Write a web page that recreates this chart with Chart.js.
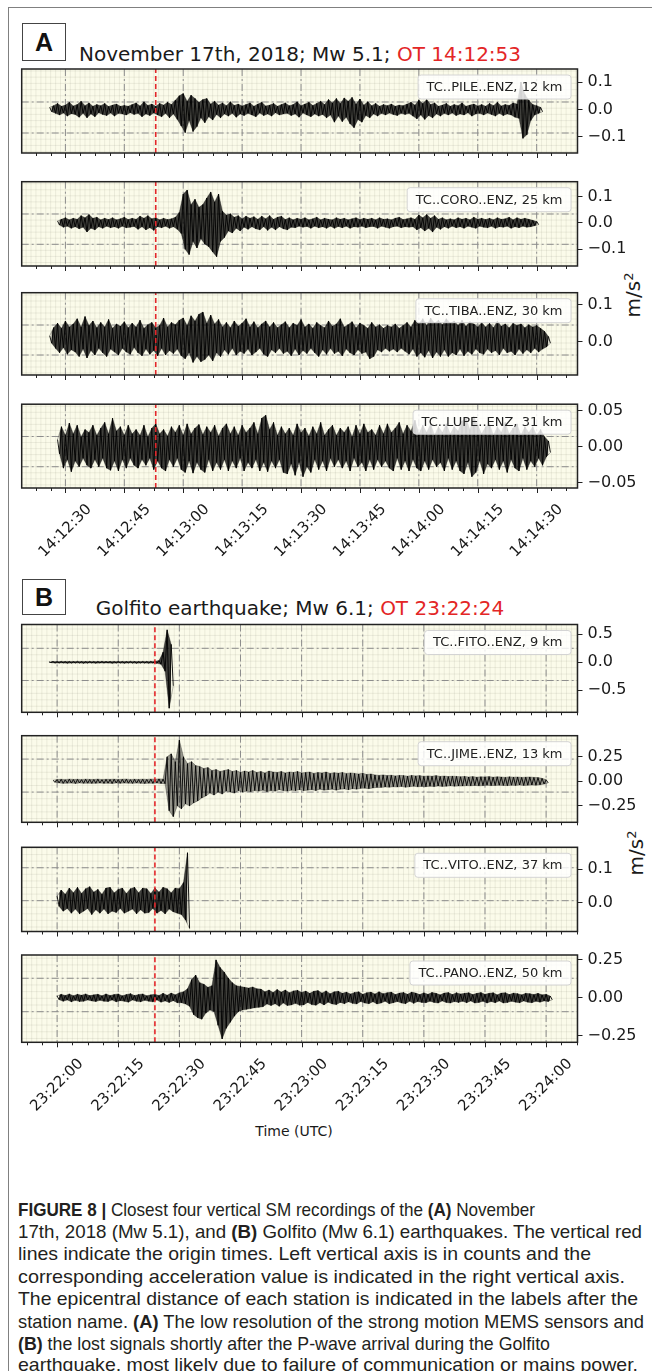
<!DOCTYPE html>
<html><head><meta charset="utf-8">
<script src="https://cdn.jsdelivr.net/npm/chart.js@4.4.0/dist/chart.umd.min.js"></script>
<style>
html,body{margin:0;padding:0;background:#fff;}
body{width:652px;height:1371px;position:relative;overflow:hidden;font-family:"DejaVu Sans",sans-serif;color:#1a1a1a;}
.frame{position:absolute;left:8px;top:7px;width:700px;height:1400px;border-left:1px solid #808080;border-top:1px solid #808080;}
.pbox{position:absolute;left:22px;width:44px;border:1px solid #444;font-family:"Liberation Sans",Arial,sans-serif;font-weight:bold;font-size:25px;text-align:center;box-sizing:border-box;color:#111;}
.title{position:absolute;left:22px;width:556px;text-align:center;font-size:20px;white-space:nowrap;line-height:24px;color:#1a1a1a;}
.red{color:#e32626;}
canvas{position:absolute;left:0;}
.unit{position:absolute;font-size:20px;transform:translate(-50%,-50%) rotate(-90deg);white-space:nowrap;line-height:24px;color:#1a1a1a;}
.unit sup{font-size:13px;vertical-align:top;position:relative;top:-4px;}
.xlabel{position:absolute;font-size:14px;transform:translate(-50%,-50%);white-space:nowrap;color:#1a1a1a;}
.cap{position:absolute;left:18px;font-family:"Liberation Sans Narrow","Liberation Sans",Arial,sans-serif;font-size:18.5px;line-height:22px;white-space:nowrap;transform-origin:0 50%;color:#231f20;}
</style></head>
<body>
<div class="frame"></div>
<div class="pbox" style="top:23px;height:38px;line-height:36px;">A</div>
<div class="title" style="top:42px;">November 17th, 2018; Mw 5.1; <span class="red">OT 14:12:53</span></div>
<div class="pbox" style="top:579px;height:36px;line-height:34px;">B</div>
<div class="title" style="top:596px;">Golfito earthquake; Mw 6.1; <span class="red">OT 23:22:24</span></div>
<div class="unit" style="left:633px;top:295px;">m/s<sup>2</sup></div>
<div class="unit" style="left:636px;top:853px;">m/s<sup>2</sup></div>
<div class="xlabel" style="left:294px;top:1131px;">Time (UTC)</div>

<div class="cap" data-w="517" style="top:1198.5px;"><b>FIGURE 8 |</b> Closest four vertical SM recordings of the <b>(A)</b> November</div>
<div class="cap" data-w="624" style="top:1220.9px;">17th, 2018 (Mw 5.1), and <b>(B)</b> Golfito (Mw 6.1) earthquakes. The vertical red</div>
<div class="cap" data-w="573" style="top:1243.3px;">lines indicate the origin times. Left vertical axis is in counts and the</div>
<div class="cap" data-w="607" style="top:1265.7px;">corresponding acceleration value is indicated in the right vertical axis.</div>
<div class="cap" data-w="620" style="top:1288.1px;">The epicentral distance of each station is indicated in the labels after the</div>
<div class="cap" data-w="626" style="top:1310.5px;">station name. <b>(A)</b> The low resolution of the strong motion MEMS sensors and</div>
<div class="cap" data-w="532" style="top:1332.9px;"><b>(B)</b> the lost signals shortly after the P-wave arrival during the Golfito</div>
<div class="cap" data-w="620" style="top:1354.3px;">earthquake, most likely due to failure of communication or mains power.</div>

<script>
// ================= DATA =================
// Time axes (seconds after 14:12:00 for panel A, after 23:22:00 for panel B)
const timeLabelsA = ['14:12:30','14:12:45','14:13:00','14:13:15','14:13:30','14:13:45','14:14:00','14:14:15','14:14:30'];
const tickSecondsA = [30,45,60,75,90,105,120,135,150];
const timeLabelsB = ['23:22:00','23:22:15','23:22:30','23:22:45','23:23:00','23:23:15','23:23:30','23:23:45','23:24:00'];
const tickSecondsB = [0,15,30,45,60,75,90,105,120];
const originA = 53;   // OT 14:12:53
const originB = 24;   // OT 23:22:24

const stationsA = ['TC..PILE..ENZ, 12 km','TC..CORO..ENZ, 25 km','TC..TIBA..ENZ, 30 km','TC..LUPE..ENZ, 31 km'];
const stationsB = ['TC..FITO..ENZ, 9 km','TC..JIME..ENZ, 13 km','TC..VITO..ENZ, 37 km','TC..PANO..ENZ, 50 km'];

// right-axis (m/s^2) tick values
const accTicksA = [[0.1,0,-0.1],[0.1,0,-0.1],[0.1,0],[0.05,0,-0.05]];
const accTicksB = [[0.5,0,-0.5],[0.25,0,-0.25],[0.1,0],[0.25,0,-0.25]];

// Trace envelopes, one value per second,
// upper (hi) and lower (lo) excursion in mm/s^2 (1e-3 m/s^2).
const pileStart = 26;
const pileHi = [8,14,22,12,16,26,13,18,30,14, 24,12,18,14,22,11,16,20,12,15, 12,18,24,13,28,15,20,12,22,16,
  26,18,34,50,58,30,52,40,26,36, 40,20,30,16,24,14,28,15,20,13, 18,24,12,20,26,13,16,22,12,18,
  24,14,18,28,14,20,26,15,22,30, 18,36,24,40,22,42,30,44,20,38, 16,28,14,22,12,18,14,20,12,16,
  14,20,26,16,34,22,36,18,24,12, 16,22,12,18,14,24,12,16,20,13, 18,12,22,14,26,13,18,15,24,20,
  100,55,34,18,14,8];
const pileLo = [-8,-14,-20,-13,-24,-15,-18,-28,-14,-30, -16,-26,-12,-18,-22,-13,-24,-14,-16,-20, -12,-18,-14,-26,-16,-22,-13,-20,-26,-14,
  -30,-16,-36,-60,-84,-40,-80,-62,-30,-48, -26,-38,-18,-30,-16,-24,-14,-28,-16,-22, -14,-20,-26,-13,-22,-16,-24,-12,-20,-16,
  -14,-22,-16,-28,-13,-20,-26,-16,-24,-18, -30,-20,-46,-24,-44,-28,-52,-66,-36,-46, -22,-30,-16,-24,-14,-20,-13,-18,-22,-14,
  -18,-14,-24,-34,-20,-36,-22,-30,-16,-24, -14,-20,-13,-22,-16,-20,-12,-24,-16,-14, -20,-13,-18,-24,-14,-22,-16,-20,-28,-32,
  -105,-92,-40,-20,-14,-8];

const coroStart = 28;
const coroHi = [8,14,20,12,18,14,28,20,32,18, 22,12,18,13,20,12,16,22,13,18, 14,26,18,28,16,20,12,18,13,16,
  22,40,110,125,70,90,60,70,95,118, 80,110,45,30,35,22,28,16,26,18, 24,14,26,16,28,14,22,26,13,20,
  12,18,14,20,12,16,22,12,18,14, 12,20,14,18,12,16,20,13,18,14, 18,12,20,14,16,12,18,22,13,16,
  20,14,30,20,32,18,28,14,20,12, 16,12,20,14,18,12,22,14,18,13, 18,12,20,14,16,22,12,20,14,18,
  14,10,6];
const coroLo = [-8,-16,-12,-20,-14,-22,-16,-34,-20,-26, -14,-20,-12,-18,-14,-20,-12,-18,-16,-13, -24,-14,-26,-18,-28,-14,-18,-12,-20,-14,
  -24,-40,-100,-120,-70,-95,-60,-80,-90,-110, -128,-70,-55,-30,-38,-20,-30,-16,-24,-14, -22,-26,-14,-28,-16,-26,-14,-22,-26,-16,
  -18,-12,-16,-13,-20,-12,-18,-14,-20,-12, -20,-13,-18,-12,-20,-14,-16,-12,-18,-14, -13,-20,-12,-16,-20,-14,-12,-18,-14,-16,
  -14,-26,-18,-30,-20,-34,-16,-24,-14,-20, -12,-18,-14,-20,-12,-16,-20,-12,-16,-18, -12,-20,-14,-16,-12,-20,-14,-18,-12,-16,
  -14,-10,-6];

const tibaStart = 26;
const tibaHi = [16,38,50,36,56,40,48,62,40,68, 44,56,38,52,40,60,36,48,42,54, 38,50,40,58,36,46,52,38,44,64,
  40,52,46,58,64,44,70,56,74,80, 50,72,48,60,40,52,38,56,42,50, 62,40,54,38,48,56,40,52,38,46,
  54,38,50,44,60,40,48,36,52,44, 38,56,42,48,62,40,46,54,38,50, 44,36,52,40,46,36,44,40,48,36,
  44,52,40,58,48,62,44,64,50,58, 46,62,50,56,44,58,42,54,48,40, 52,40,50,38,56,42,48,38,50,44,
  48,38,46,40,44,36,28,14];
const tibaLo = [-4,-18,-30,-16,-34,-22,-28,-40,-20,-44, -24,-36,-18,-30,-40,-20,-28,-36,-18,-28, -34,-16,-30,-38,-20,-34,-24,-38,-18,-36,
  -24,-32,-20,-38,-46,-30,-56,-40,-54,-48, -36,-52,-30,-40,-22,-34,-18,-36,-26,-32, -20,-36,-28,-18,-34,-40,-22,-30,-18,-32,
  -26,-38,-20,-36,-24,-32,-18,-30,-40,-22, -34,-18,-32,-26,-38,-20,-30,-36,-22,-32, -28,-46,-40,-22,-28,-18,-26,-20,-28,-18,
  -26,-34,-20,-40,-30,-42,-24,-44,-28,-40, -22,-40,-30,-36,-20,-38,-26,-34,-20,-30, -34,-20,-30,-24,-36,-18,-30,-26,-36,-20,
  -32,-22,-30,-18,-28,-20,-14,-4];

const lupeStart = 28;
const lupeHi = [10,28,16,33,18,30,14,24,20,30, 16,26,34,18,40,22,28,16,30,18, 24,16,30,14,26,32,18,24,15,28,
  20,30,16,32,18,26,31,17,28,20, 30,15,26,32,18,28,16,30,20,26, 34,18,40,44,24,34,16,28,18,26,
  16,32,20,26,15,28,18,34,16,24, 30,16,26,20,28,14,30,18,32,20, 24,16,30,18,32,20,26,34,18,30,
  22,37,18,30,20,32,16,28,20,32, 18,28,22,36,40,24,42,30,18,28, 32,16,28,20,34,18,26,32,16,28,
  20,28,16,24,14,8];
const lupeLo = [-10,-30,-18,-35,-20,-28,-16,-26,-30,-18, -28,-16,-30,-33,-20,-34,-18,-30,-16,-26, -30,-18,-26,-16,-32,-20,-30,-34,-18,-28,
  -16,-32,-36,-20,-37,-22,-32,-36,-18,-34, -22,-32,-18,-34,-20,-30,-16,-34,-22,-30, -18,-34,-22,-35,-20,-30,-18,-36,-38,-24,
  -40,-22,-42,-28,-36,-18,-32,-20,-34,-16, -28,-18,-30,-20,-34,-16,-28,-22,-34,-18, -32,-18,-28,-20,-30,-34,-16,-32,-20,-34,
  -18,-30,-34,-20,-32,-18,-28,-22,-34,-16, -32,-20,-34,-38,-22,-42,-36,-20,-38,-24, -30,-18,-32,-20,-36,-18,-30,-34,-16,-32,
  -20,-28,-16,-26,-14,-8];

const fitoStart = -2;
const fitoHi = [6,14,12,15,13,14,12,16,14,13, 15,12,14,16,13,14,12,15,14,13, 16,14,12,15,14,16,18,30,180,580, 320];
const fitoLo = [-6,-14,-13,-12,-15,-14,-12,-13,-16,-14, -12,-15,-13,-14,-12,-16,-14,-13,-15,-12, -14,-16,-13,-14,-15,-14,-18,-35,-160,-820, -420];

const jimeStart = -1;
const jimeHi = [10,18,20,16,22,18,20,17,21,19, 18,22,17,20,19,21,18,20,22,17, 20,18,21,19,22,20,24,22,250,280,
  200,420,250,180,200,160,150,130,140,110, 120,100,110,120,100,110,90,105,95,110, 90,100,85,105,95,90,100,85,95,90,
  100,85,90,95,80,90,85,95,80,88, 82,90,78,85,80,75,82,70,75,65, 60,65,58,62,55,60,58,52,60,55,
  58,50,55,52,58,50,54,48,52,50, 46,50,44,48,42,46,44,48,42,46, 44,40,46,42,44,40,42,44,40,38,
  30,16];
const jimeLo = [-10,-17,-21,-19,-18,-22,-17,-20,-19,-21, -20,-18,-21,-19,-22,-17,-20,-18,-19,-21, -18,-20,-22,-19,-21,-18,-22,-24,-300,-360,
  -250,-280,-230,-250,-220,-200,-170,-150,-120,-140, -110,-130,-100,-110,-120,-95,-110,-100,-105,-95, -100,-90,-105,-95,-100,-85,-95,-100,-90,-95,
  -85,-95,-90,-85,-95,-80,-90,-85,-80,-90, -80,-78,-85,-75,-80,-72,-70,-75,-68,-62, -62,-58,-60,-55,-58,-52,-60,-55,-50,-56,
  -52,-55,-50,-54,-48,-52,-50,-46,-50,-48, -48,-44,-46,-42,-46,-44,-40,-44,-42,-40, -42,-44,-40,-42,-38,-42,-40,-38,-40,-36,
  -28,-16];

const vitoStart = 0;
const vitoHi = [20,38,26,44,30,46,28,42,48,32, 40,26,44,46,30,40,44,28,42,46, 30,44,42,28,44,32,46,42,30,44, 42,60,148];
const vitoLo = [-10,-24,-16,-30,-18,-32,-24,-16,-34,-20, -30,-18,-32,-24,-28,-16,-30,-24,-18,-32, -20,-30,-28,-16,-30,-22,-32,-18,-26,-30, -34,-50,-75];

const panoStart = 0;
const panoHi = [12,24,16,26,14,24,18,26,15,20, 24,14,26,16,22,26,14,22,28,16, 22,26,14,20,24,16,30,18,32,20,
  34,40,60,120,150,100,90,70,80,250, 200,170,130,100,80,75,70,65,72,60, 58,40,52,36,55,38,52,34,46,50,
  36,45,30,44,48,32,46,28,40,44, 30,38,26,36,40,24,34,38,26,40, 28,34,38,22,32,36,24,38,32,22,
  34,24,36,30,20,32,35,22,34,26, 30,34,22,30,35,24,30,34,20,32, 34,22,32,28,20,30,28,22,30,20,
  24,12];
const panoLo = [-12,-22,-14,-26,-16,-24,-22,-14,-20,-24, -16,-22,-24,-14,-26,-18,-22,-28,-14,-22, -26,-16,-22,-26,-14,-28,-20,-30,-18,-32,
  -32,-40,-55,-110,-130,-140,-100,-80,-90,-180, -270,-200,-160,-120,-90,-80,-75,-70,-65,-62, -58,-40,-50,-38,-55,-34,-50,-46,-36,-48,
  -46,-30,-44,-48,-32,-46,-28,-40,-44,-30, -38,-26,-36,-40,-24,-34,-38,-26,-40,-34, -22,-38,-32,-24,-34,-38,-22,-36,-24,-30,
  -32,-22,-30,-34,-20,-30,-34,-24,-30,-22, -32,-20,-34,-30,-22,-34,-24,-32,-20,-34, -30,-22,-28,-32,-20,-28,-32,-22,-28,-20,
  -24,-12];

// ================= LAYOUT (pixels / axis ranges) =================
const PLOT_LEFT = 21.7, PLOT_RIGHT = 577.5, RAXIS_W = 60;
const xRangeA = [18.87, 160.4];
const xRangeB = [-8.69, 127.7];
const layoutA = [
  {top:69,    bottom:153,   yMin:-0.1582, yMax:0.1473, grid:[0.0273,-0.0855], dec:1},
  {top:181.7, bottom:266,   yMin:-0.1635, yMax:0.157,  grid:[0.0342,-0.081],  dec:1},
  {top:292.7, bottom:375,   yMin:-0.09,   yMax:0.1324, grid:[0.0451,-0.036],  dec:1},
  {top:404.2, bottom:488,   yMin:-0.0578, yMax:0.0595, grid:[0.0143,-0.028],  dec:2},
];
const layoutB = [
  {top:624.5, bottom:712.3, yMin:-0.893,  yMax:0.675,  grid:[0.25,-0.325],    dec:1},
  {top:735.7, bottom:822.3, yMin:-0.418,  yMax:0.465,  grid:[0.2265,-0.11],   dec:2},
  {top:847.3, bottom:931.5, yMin:-0.084,  yMax:0.164,  grid:[0.1038,0.0068],  dec:1},
  {top:955,   bottom:1042.3,yMin:-0.292,  yMax:0.282,  grid:[0.129,-0.0908],  dec:2},
];

// zig-zag between the read upper and lower excursions
function tracePoints(start, hi, lo) {
  const pts = [];
  for (let i = 0; i < hi.length; i++) {
    pts.push({x: start + i, y: hi[i] / 1000});
    pts.push({x: start + i + 0.5, y: lo[i] / 1000});
  }
  return pts;
}
function edgePoints(start, vals, shift) {
  return vals.map((v, i) => ({x: start + i + shift, y: v / 1000}));
}

const seisPlugin = {
  id: 'seis',
  beforeDatasetsDraw(chart) {
    const c = chart.options.plugins.seis;
    const {ctx, chartArea: a} = chart;
    const x = chart.scales.x, y = chart.scales.y;
    ctx.save();
    ctx.fillStyle = '#fbfbea';
    ctx.fillRect(a.left, a.top, a.width, a.height);
    ctx.beginPath(); ctx.rect(a.left, a.top, a.width, a.height); ctx.clip();
    // fine minor grid
    ctx.strokeStyle = 'rgba(110,110,90,0.16)';
    ctx.lineWidth = 0.7;
    const mstep = 1.25;
    for (let k = Math.ceil(x.min / mstep); k * mstep <= x.max; k++) {
      const px = x.getPixelForValue(k * mstep);
      ctx.beginPath(); ctx.moveTo(px, a.top); ctx.lineTo(px, a.bottom); ctx.stroke();
    }
    const hstep = (c.grid[0] - c.grid[1]) / 5;
    for (let k = Math.ceil((y.min - c.grid[1]) / hstep); c.grid[1] + k * hstep <= y.max; k++) {
      const py = y.getPixelForValue(c.grid[1] + k * hstep);
      ctx.beginPath(); ctx.moveTo(a.left, py); ctx.lineTo(a.right, py); ctx.stroke();
    }
    // major dash-dot grid
    ctx.setLineDash([7, 3, 2, 3]);
    ctx.strokeStyle = '#8c8c8c';
    ctx.lineWidth = 1;
    c.ticks.forEach(s => {
      const px = x.getPixelForValue(s);
      ctx.beginPath(); ctx.moveTo(px, a.top); ctx.lineTo(px, a.bottom); ctx.stroke();
    });
    c.grid.forEach(g => {
      const py = y.getPixelForValue(g);
      ctx.beginPath(); ctx.moveTo(a.left, py); ctx.lineTo(a.right, py); ctx.stroke();
    });
    ctx.restore();
  },
  afterDatasetsDraw(chart) {
    const c = chart.options.plugins.seis;
    const {ctx, chartArea: a} = chart;
    const x = chart.scales.x;
    ctx.save();
    // x tick marks (major every 15 s, minor every 3.75 s)
    ctx.strokeStyle = '#222'; ctx.lineWidth = 1;
    for (let k = Math.ceil(x.min / 3.75); k * 3.75 <= x.max; k++) {
      const px = Math.round(x.getPixelForValue(k * 3.75)) + 0.5;
      const len = (k % 4 === 0) ? 5 : 3;
      ctx.beginPath(); ctx.moveTo(px, a.bottom); ctx.lineTo(px, a.bottom + len); ctx.stroke();
    }
    // frame
    ctx.strokeStyle = '#222'; ctx.lineWidth = 1.5;
    ctx.strokeRect(a.left, a.top, a.width, a.height);
    // station label box (upper right)
    ctx.font = '13px "DejaVu Sans"';
    const tw = ctx.measureText(c.station).width;
    const bw = tw + 17, bh = 24;
    const bx = a.right - 6.5 - bw, by = a.top + 6;
    ctx.beginPath();
    if (ctx.roundRect) ctx.roundRect(bx, by, bw, bh, 3); else ctx.rect(bx, by, bw, bh);
    ctx.fillStyle = 'rgba(255,255,255,0.82)'; ctx.fill();
    ctx.strokeStyle = '#d4d4d4'; ctx.lineWidth = 1; ctx.stroke();
    ctx.fillStyle = '#222'; ctx.textAlign = 'left'; ctx.textBaseline = 'middle';
    ctx.fillText(c.station, bx + 8.5, by + bh / 2 + 0.5);
    // rotated time labels
    if (c.labels) {
      ctx.font = '15px "DejaVu Sans"';
      ctx.fillStyle = '#1a1a1a';
      c.ticks.forEach((s, i) => {
        const lab = c.labels[i];
        const px = x.getPixelForValue(s);
        const w = ctx.measureText(lab).width, h = 15 * 1.15;
        const side = (w + h) / Math.SQRT2;
        ctx.save();
        ctx.translate(px, a.bottom + 13 + side / 2);
        ctx.rotate(-Math.PI / 4);
        ctx.textAlign = 'center'; ctx.textBaseline = 'middle';
        ctx.fillText(lab, 0, 0);
        ctx.restore();
      });
    }
    ctx.restore();
  }
};

function makeChart(L, xr, ticks, labels, station, accTicks, origin, tr) {
  const cTop = Math.floor(L.top) - 20;
  const padTop = L.top - cTop;
  const padBottom = labels ? 85 : 20;
  const H = Math.ceil(L.bottom + padBottom - cTop);
  const cv = document.createElement('canvas');
  cv.width = 652; cv.height = H;
  cv.style.top = cTop + 'px'; cv.style.width = '652px'; cv.style.height = H + 'px';
  document.body.appendChild(cv);
  const padBot = H - (L.bottom - cTop);
  const datasets = [
    {data: [{x: origin, y: L.yMin}, {x: origin, y: L.yMax}], borderColor: '#e3262a', borderWidth: 1.6,
     borderDash: [5, 3], pointRadius: 0, order: 0},
    {data: tracePoints(tr.start, tr.hi, tr.lo), borderColor: '#000', borderWidth: 0.9,
     pointRadius: 0, tension: 0, order: 1},
    {data: edgePoints(tr.start, tr.hi, 0), borderColor: 'rgba(0,0,0,0.6)', borderWidth: 0.5, pointRadius: 0,
     tension: 0, fill: '+1', backgroundColor: 'rgba(0,0,0,' + tr.shade + ')', order: 2},
    {data: edgePoints(tr.start, tr.lo, 0.5), borderColor: 'rgba(0,0,0,0.6)', borderWidth: 0.5, pointRadius: 0,
     tension: 0, order: 3}
  ];
  new Chart(cv.getContext('2d'), {
    type: 'line',
    data: {datasets},
    options: {
      responsive: false, animation: false, events: [], parsing: false, normalized: true,
      layout: {padding: {left: PLOT_LEFT, right: 652 - PLOT_RIGHT - RAXIS_W, top: padTop, bottom: padBot}},
      plugins: {legend: {display: false}, tooltip: {enabled: false},
        seis: {grid: L.grid, ticks: ticks, labels: labels, station: station}},
      scales: {
        x: {type: 'linear', min: xr[0], max: xr[1], display: false},
        y: {type: 'linear', position: 'right', min: L.yMin, max: L.yMax,
          afterBuildTicks: s => { s.ticks = accTicks.map(v => ({value: v})); },
          afterFit: s => { s.width = RAXIS_W; s.paddingTop = 0; s.paddingBottom = 0; },
          ticks: {font: {family: 'DejaVu Sans', size: 16}, color: '#1a1a1a', padding: 5,
            callback: v => v.toFixed(L.dec).replace('-', '\u2212')},
          grid: {drawOnChartArea: false, drawTicks: true, tickLength: 5, tickColor: '#222', tickWidth: 1},
          border: {display: false}
        }
      }
    },
    plugins: [seisPlugin]
  });
}

const tracesA = [{start: pileStart, hi: pileHi, lo: pileLo, shade: 0.74}, {start: coroStart, hi: coroHi, lo: coroLo, shade: 0.74},
                 {start: tibaStart, hi: tibaHi, lo: tibaLo, shade: 0.74}, {start: lupeStart, hi: lupeHi, lo: lupeLo, shade: 0.74}];
const tracesB = [{start: fitoStart, hi: fitoHi, lo: fitoLo, shade: 0.74}, {start: jimeStart, hi: jimeHi, lo: jimeLo, shade: 0.4},
                 {start: vitoStart, hi: vitoHi, lo: vitoLo, shade: 0.74}, {start: panoStart, hi: panoHi, lo: panoLo, shade: 0.74}];

layoutA.forEach((L, i) => makeChart(L, xRangeA, tickSecondsA, i === 3 ? timeLabelsA : null,
  stationsA[i], accTicksA[i], originA, tracesA[i]));
layoutB.forEach((L, i) => makeChart(L, xRangeB, tickSecondsB, i === 3 ? timeLabelsB : null,
  stationsB[i], accTicksB[i], originB, tracesB[i]));

// fit caption lines to the measured widths
function fitCaption() {
  document.querySelectorAll('.cap').forEach(el => {
    el.style.transform = 'none';
    const w = el.getBoundingClientRect().width;
    el.style.transform = 'scaleX(' + (parseFloat(el.dataset.w) / w) + ')';
  });
}
fitCaption();
if (document.fonts && document.fonts.ready) document.fonts.ready.then(fitCaption);
</script>
</body></html>
